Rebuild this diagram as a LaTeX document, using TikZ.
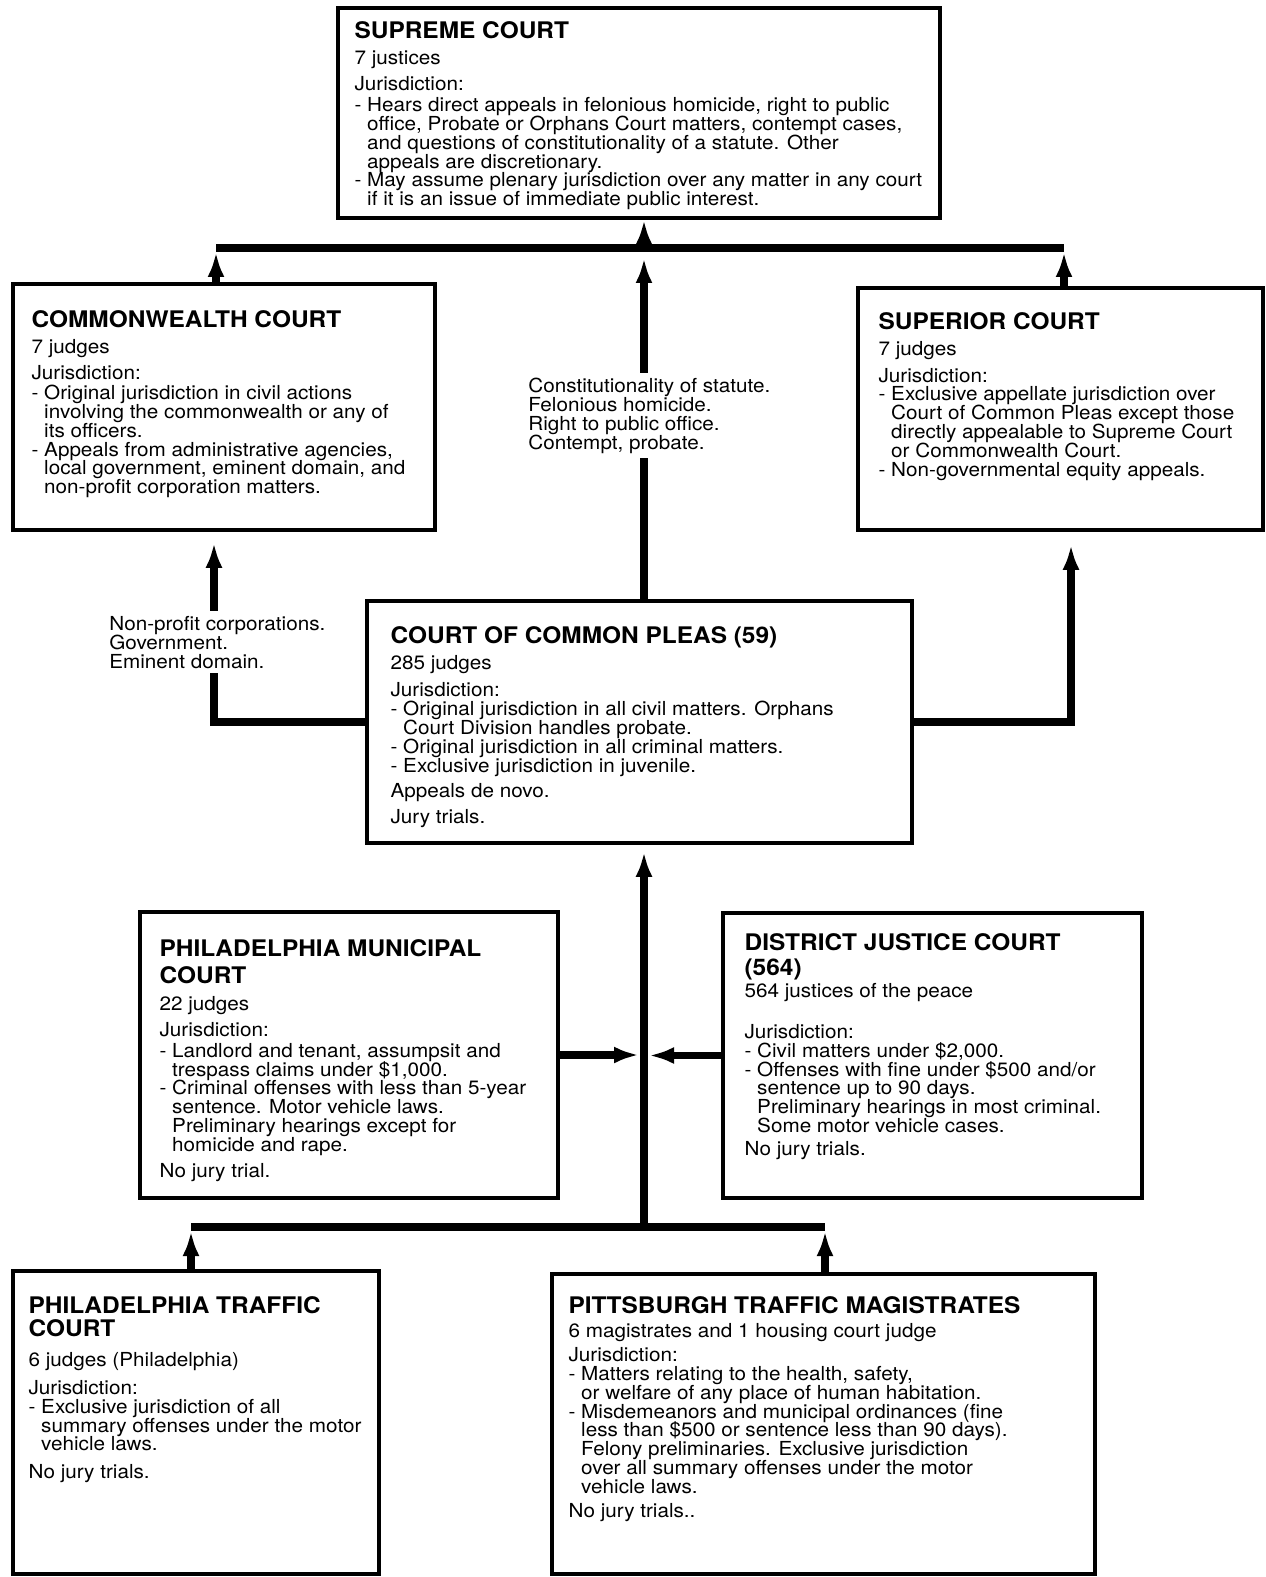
\documentclass[tikz,border=0pt]{standalone}
\usepackage{fontspec}
\setmainfont[FakeStretch=1.07]{TeX Gyre Heros}
\usetikzlibrary{arrows.meta,fit}

\newcommand{\bodysize}{\fontsize{11}{10.7}\selectfont\lineskiplimit=-4pt}
\newcommand{\courttitle}[1]{{\fontsize{13}{13.5}\selectfont\bfseries #1}}
\newcommand{\contline}{\phantom{-\ }}

\tikzset{
  courtbox/.style={draw,line width=2pt,inner sep=0pt},
  courttext/.style={anchor=north west,inner sep=0pt,align=left,font=\bodysize},
  appeal/.style={line width=4.5pt,-{Latex[length=0.5cm,width=0.34cm]}},
  trunk/.style={line width=4.5pt},
  routelabel/.style={anchor=north west,fill=white,inner sep=0.1cm,align=left,font=\bodysize}
}

\begin{document}
\begin{tikzpicture}[x=0.02cm,y=-0.02cm]

% canvas in pixel units, 1266 x 1577
\useasboundingbox (0,0) rectangle (1266,1577);

% appellate courts
\node[courtbox,fit={(338,8)(940,218)}] (supreme) {};
\node[courttext] (supremetext) at ([shift={(18,15)}]supreme.north west) {%
\courttitle{SUPREME COURT}\\[4pt]
7 justices\\[4pt]
Jurisdiction:\\[1.5pt]
- Hears direct appeals in felonious homicide, right to public\\
\contline office, Probate or Orphans Court matters, contempt cases,\\
\contline and questions of constitutionality of a statute. Other\\
\contline appeals are discretionary.\\
- May assume plenary jurisdiction over any matter in any court\\
\contline if it is an issue of immediate public interest.};

\node[courtbox,fit={(13,284)(435,530)}] (commonwealth) {};
\node[courttext] (commonwealthtext) at ([shift={(20,28)}]commonwealth.north west) {%
\courttitle{COMMONWEALTH COURT}\\[4pt]
7 judges\\[4pt]
Jurisdiction:\\[1pt]
- Original jurisdiction in civil actions\\
\contline involving the commonwealth or any of\\
\contline its officers.\\
- Appeals from administrative agencies,\\
\contline local government, eminent domain, and\\
\contline non-profit corporation matters.};

\node[courtbox,fit={(858,288)(1263,530)}] (superior) {};
\node[courttext] (superiortext) at ([shift={(22,26)}]superior.north west) {%
\courttitle{SUPERIOR COURT}\\[4pt]
7 judges\\[4.5pt]
Jurisdiction:\\
- Exclusive appellate jurisdiction over\\
\contline Court of Common Pleas except those\\
\contline directly appealable to Supreme Court\\
\contline or Commonwealth Court.\\
- Non-governmental equity appeals.};

% trial court
\node[courtbox,fit={(367,601)(912,843)}] (commonpleas) {};
\node[courttext] (commonpleastext) at ([shift={(25,27)}]commonpleas.north west) {%
\courttitle{COURT OF COMMON PLEAS (59)}\\[4pt]
285 judges\\[5pt]
Jurisdiction:\\
- Original jurisdiction in all civil matters. Orphans\\
\contline Court Division handles probate.\\
- Original jurisdiction in all criminal matters.\\
- Exclusive jurisdiction in juvenile.\\[4pt]
Appeals de novo.\\[4pt]
Jury trials.};

% minor courts
\node[courtbox,fit={(140,912)(558,1198)}] (philmuni) {};
\node[courttext] (philmunitext) at ([shift={(21,29)}]philmuni.north west) {%
\courttitle{PHILADELPHIA MUNICIPAL}\\[4.5pt]
\courttitle{COURT}\\[5pt]
22 judges\\[4pt]
Jurisdiction:\\[1pt]
- Landlord and tenant, assumpsit and\\
\contline trespass claims under \$1,000.\\
- Criminal offenses with less than 5-year\\
\contline sentence. Motor vehicle laws.\\
\contline Preliminary hearings except for\\
\contline homicide and rape.\\[4pt]
No jury trial.};

\node[courtbox,fit={(723,913)(1142,1198)}] (district) {};
\node[courttext] (districttext) at ([shift={(23,22)}]district.north west) {%
\courttitle{DISTRICT JUSTICE COURT}\\[3.5pt]
\courttitle{(564)}\\[2pt]
564 justices of the peace\\[12.5pt]
Jurisdiction:\\
- Civil matters under \$2,000.\\
- Offenses with fine under \$500 and/or\\
\contline sentence up to 90 days.\\
\contline Preliminary hearings in most criminal.\\
\contline Some motor vehicle cases.\\[2.5pt]
No jury trials.};

\node[courtbox,fit={(13,1271)(379,1574)}] (philtraffic) {};
\node[courttext] (philtraffictext) at ([shift={(17,27)}]philtraffic.north west) {%
\courttitle{PHILADELPHIA TRAFFIC}\\[2.5pt]
\courttitle{COURT}\\[6pt]
6 judges (Philadelphia)\\[5.5pt]
Jurisdiction:\\
- Exclusive jurisdiction of all\\
\contline summary offenses under the motor\\
\contline vehicle laws.\\[5pt]
No jury trials.};

\node[courtbox,fit={(552,1274)(1095,1574)}] (pittsburgh) {};
\node[courttext] (pittsburghtext) at ([shift={(18,24)}]pittsburgh.north west) {%
\courttitle{PITTSBURGH TRAFFIC MAGISTRATES}\\[3pt]
6 magistrates and 1 housing court judge\\[3pt]
Jurisdiction:\\
- Matters relating to the health, safety,\\
\contline or welfare of any place of human habitation.\\
- Misdemeanors and municipal ordinances (fine\\
\contline less than \$500 or sentence less than 90 days).\\
\contline Felony preliminaries. Exclusive jurisdiction\\
\contline over all summary offenses under the motor\\
\contline vehicle laws.\\[3pt]
No jury trials..};

% upper trunk and appeals
\coordinate (upperleft) at (216,248);
\coordinate (upperright) at (1064,248);
\coordinate (uppermid) at (644,248);
\draw[trunk] (upperleft) -- (upperright);
\draw[appeal] (uppermid) -- (supreme.south -| uppermid);
\draw[appeal] (commonwealth.north -| upperleft) -- ([yshift=-0.08cm]upperleft);
\draw[appeal] (superior.north -| upperright) -- ([yshift=-0.08cm]upperright);
\draw[appeal] (commonpleas.north -| uppermid) -- ([yshift=-0.2cm]uppermid);

% side routes out of Common Pleas
\coordinate (leftroute) at (214,722);
\coordinate (rightroute) at (1071,722);
\draw[appeal] (commonpleas.west) -- (leftroute) -- ([yshift=-0.22cm]commonwealth.south -| leftroute);
\draw[appeal] (commonpleas.east) -- (rightroute) -- ([yshift=-0.26cm]superior.south -| rightroute);

\node[routelabel] (nonprofit) at (104,611) {Non-profit corporations.\\Government.\\Eminent domain.};
\node[routelabel] (directappeal) at (523,373) {Constitutionality of statute.\\Felonious homicide.\\Right to public office.\\Contempt, probate.};

% lower trunk and appeals
\coordinate (lowerleft) at (191,1227);
\coordinate (lowerright) at (825,1227);
\coordinate (lowermid) at (644,1227);
\draw[trunk] (lowerleft) -- (lowerright);
\draw[appeal] (lowermid) -- ([yshift=-0.14cm]commonpleas.south -| lowermid);
\draw[appeal] (philtraffic.north -| lowerleft) -- ([yshift=-0.08cm]lowerleft);
\draw[appeal] (pittsburgh.north -| lowerright) -- ([yshift=-0.08cm]lowerright);
\draw[appeal] (philmuni.east) -- ([xshift=-0.1cm]philmuni.east -| lowermid);
\draw[appeal] (district.west) -- ([xshift=0.1cm]district.west -| lowermid);

\end{tikzpicture}
\end{document}
